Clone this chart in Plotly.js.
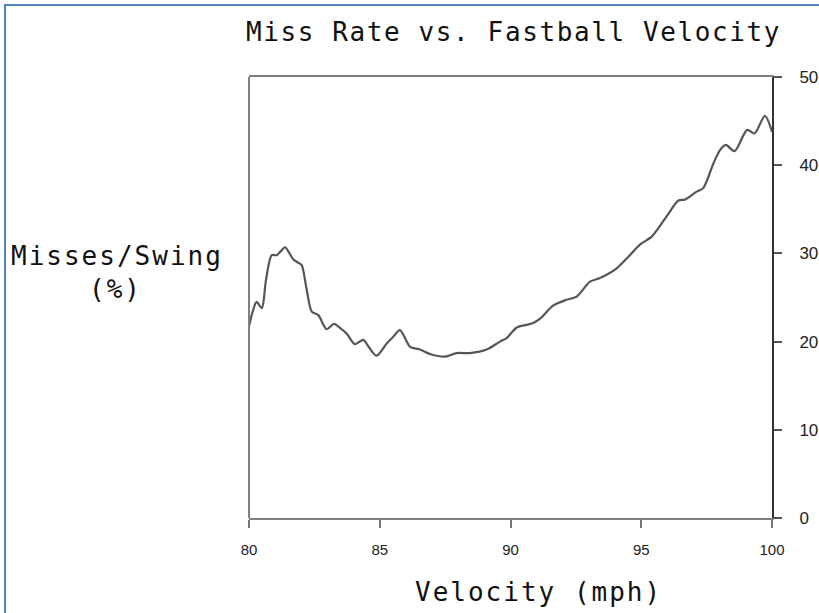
<!DOCTYPE html>
<html>
<head>
<meta charset="utf-8">
<script src="https://cdn.plot.ly/plotly-3.0.1.min.js"></script>
<style>
  html, body { margin: 0; padding: 0; background: #ffffff; }
  #wrap { position: relative; width: 819px; height: 613px; overflow: hidden; }
  #frame { position: absolute; left: 4px; top: 4px; width: 830px; height: 620px;
           border-left: 2px solid #4f81bd; border-top: 2px solid #4f81bd; pointer-events: none; }
  .gtitle { letter-spacing: 1.6px; }
  .annotation-text { letter-spacing: 2px; }
</style>
</head>
<body>
<div id="wrap">
  <div id="chart" style="width:819px;height:613px;"></div>
  <div id="frame"></div>
</div>
<script>
// Velocity (mph) and miss rate (misses per swing, %)
const velocity = [80.0, 80.15, 80.29, 80.49, 80.65, 80.87, 81.06, 81.2, 81.38, 81.55, 81.7, 81.85, 82.01,
  82.2, 82.4, 82.65, 82.97, 83.25, 83.5, 83.74, 84.05, 84.37, 84.6, 84.88, 85.27, 85.5, 85.77, 86.0,
  86.16, 86.54, 86.92, 87.5, 87.94, 88.45, 89.09, 89.6, 89.85, 90.24, 90.62, 90.87, 91.13, 91.64,
  92.1, 92.53, 93.04, 93.42, 94.06, 94.5, 94.95, 95.4, 95.97, 96.42, 96.67, 97.12, 97.37, 97.76,
  98.01, 98.23, 98.57, 99.05, 99.33, 99.73, 100.0];
const missRate = [21.7, 23.5, 24.5, 23.8, 27.0, 29.8, 29.8, 30.2, 30.7, 30.0, 29.3, 29.0, 28.7,
  26.0, 23.4, 23.0, 21.4, 22.0, 21.5, 20.9, 19.7, 20.2, 19.3, 18.4, 19.8, 20.5, 21.3, 20.2,
  19.4, 19.1, 18.6, 18.3, 18.7, 18.7, 19.1, 20.0, 20.4, 21.6, 21.9, 22.1, 22.6, 24.1,
  24.7, 25.1, 26.8, 27.2, 28.3, 29.6, 31.0, 31.9, 34.2, 36.0, 36.1, 37.0, 37.4, 40.2,
  41.7, 42.3, 41.6, 44.0, 43.6, 45.6, 43.8];
const xTicks = [80, 85, 90, 95, 100];
const yTicks = [0, 10, 20, 30, 40, 50];

const titleText = 'Miss Rate vs. Fastball Velocity';
const xTitleText = 'Velocity (mph)';
const yTitleLine1 = 'Misses/Swing';
const yTitleLine2 = '(%)';

const mono = 'DejaVu Sans Mono, monospace';
const sans = 'Liberation Sans, Arial, sans-serif';

const trace = {
  x: velocity,
  y: missRate,
  type: 'scatter',
  mode: 'lines',
  line: { color: '#555555', width: 2.2, shape: 'spline', smoothing: 0.8 },
  hoverinfo: 'skip',
  showlegend: false
};

const layout = {
  width: 819,
  height: 613,
  margin: { l: 249, r: 47, t: 77, b: 95, pad: 0 },
  paper_bgcolor: '#ffffff',
  plot_bgcolor: '#ffffff',
  title: {
    text: titleText,
    font: { family: mono, size: 26, color: '#111111' },
    xref: 'container', x: 0.627, xanchor: 'center',
    yref: 'container', y: 0.948, yanchor: 'middle'
  },
  xaxis: {
    range: [80, 100],
    tickmode: 'array',
    tickvals: xTicks,
    ticktext: xTicks.map(String),
    ticks: 'outside', ticklen: 8, tickwidth: 2, tickcolor: '#777777',
    showline: true, linecolor: '#808080', linewidth: 2, mirror: true,
    showgrid: false, zeroline: false,
    tickfont: { family: sans, size: 15, color: '#222222' },
    ticklabelstandoff: 9,
    fixedrange: true
  },
  yaxis: {
    range: [0, 50],
    side: 'right',
    tickmode: 'array',
    tickvals: yTicks,
    ticktext: yTicks.map(String),
    ticks: 'outside', ticklen: 8, tickwidth: 2, tickcolor: '#555555',
    showline: true, linecolor: '#333333', linewidth: 2, mirror: false,
    showgrid: false, zeroline: false,
    tickfont: { family: sans, size: 17, color: '#222222' },
    ticklabelstandoff: 14,
    fixedrange: true
  },
  shapes: [
    { type: 'line', xref: 'paper', yref: 'paper', x0: 0, x1: 0, y0: 0, y1: 1,
      line: { color: '#808080', width: 2 } }
  ],
  annotations: [
    { text: yTitleLine1, xref: 'paper', yref: 'paper', x: -0.2515, y: 0.594,
      xanchor: 'center', yanchor: 'middle', showarrow: false,
      font: { family: mono, size: 26, color: '#111111' } },
    { text: yTitleLine2, xref: 'paper', yref: 'paper', x: -0.256, y: 0.519,
      xanchor: 'center', yanchor: 'middle', showarrow: false,
      font: { family: mono, size: 26, color: '#111111' } },
    { text: xTitleText, xref: 'paper', yref: 'paper', x: 0.5526, y: -0.1678,
      xanchor: 'center', yanchor: 'middle', showarrow: false,
      font: { family: mono, size: 26, color: '#111111' } }
  ]
};

Plotly.newPlot('chart', [trace], layout, { displayModeBar: false, staticPlot: true });
</script>
</body>
</html>
